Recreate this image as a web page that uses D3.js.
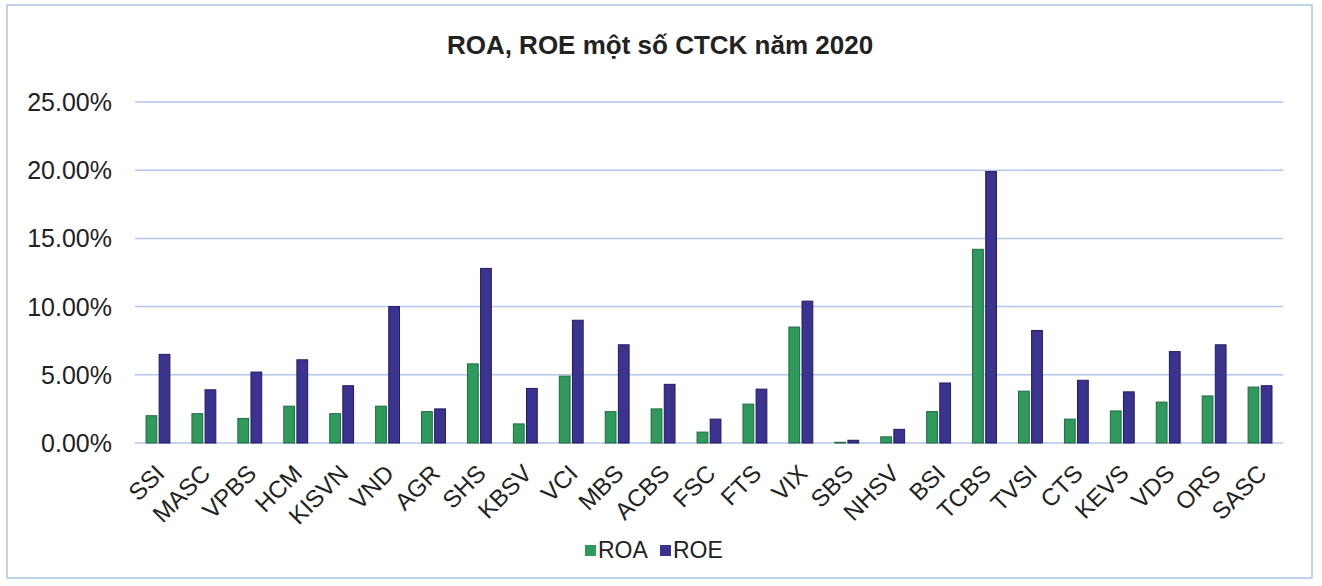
<!DOCTYPE html>
<html>
<head>
<meta charset="utf-8">
<script src="https://cdn.jsdelivr.net/npm/d3@7"></script>
<style>
  body { margin: 0; background: #fff; }
  text { font-family: "Liberation Sans", Arial, sans-serif; }
</style>
</head>
<body>
<div id="chart"></div>
<script>
// Data
const companies = ["SSI", "MASC", "VPBS", "HCM", "KISVN", "VND", "AGR", "SHS", "KBSV", "VCI",
  "MBS", "ACBS", "FSC", "FTS", "VIX", "SBS", "NHSV", "BSI", "TCBS", "TVSI",
  "CTS", "KEVS", "VDS", "ORS", "SASC"];
const roa = [2.0, 2.15, 1.8, 2.7, 2.15, 2.7, 2.3, 5.8, 1.4, 4.9,
  2.3, 2.5, 0.8, 2.85, 8.5, 0.05, 0.45, 2.3, 14.2, 3.8,
  1.75, 2.35, 3.0, 3.45, 4.1];
const roe = [6.5, 3.9, 5.2, 6.1, 4.2, 10.0, 2.5, 12.8, 4.0, 9.0,
  7.2, 4.3, 1.75, 3.95, 10.4, 0.2, 1.0, 4.4, 19.9, 8.25,
  4.6, 3.75, 6.7, 7.2, 4.2];
const seriesNames = ["ROA", "ROE"];
const seriesColors = ["#2f9a5c", "#3b3390"];
const seriesStroke = ["#1e6a3e", "#221b5c"];
const yTicks = [0, 5, 10, 15, 20, 25];

const width = 1322, height = 586;
const svg = d3.select("#chart").append("svg")
  .attr("width", width).attr("height", height);

// outer frame
svg.append("rect")
  .attr("x", 7).attr("y", 5).attr("width", 1305).attr("height", 573)
  .attr("fill", "#fff").attr("stroke", "#a9c6e6").attr("stroke-width", 1.5);

// title
svg.append("text")
  .attr("x", 660).attr("y", 54)
  .attr("text-anchor", "middle")
  .attr("font-weight", "bold")
  .attr("font-size", 26)
  .attr("fill", "#222")
  .text("ROA, ROE một số CTCK năm 2020");

const x = d3.scaleBand().domain(companies).range([135, 1283])
  .paddingInner(0.48).paddingOuter(0.24);
const x1 = d3.scaleBand().domain(seriesNames).range([0, x.bandwidth()]).paddingInner(0.18);
const y = d3.scaleLinear().domain([0, 25]).range([443, 102]);

// gridlines
svg.append("g").selectAll("line").data(yTicks).join("line")
  .attr("x1", 135).attr("x2", 1283)
  .attr("y1", d => y(d)).attr("y2", d => y(d))
  .attr("stroke", "#b3c6ec").attr("stroke-width", 1.5);

// y labels
svg.append("g").selectAll("text").data(yTicks).join("text")
  .attr("x", 112).attr("y", d => y(d) + 9)
  .attr("text-anchor", "end")
  .attr("font-size", 25)
  .attr("fill", "#222")
  .text(d => d3.format(".2f")(d) + "%");

// bars
const rows = companies.map((c, i) => ({ name: c, vals: [roa[i], roe[i]] }));
const groups = svg.append("g").selectAll("g").data(rows).join("g")
  .attr("transform", d => `translate(${x(d.name)},0)`);
groups.selectAll("rect")
  .data(d => d.vals.map((v, k) => ({ key: seriesNames[k], k, v })))
  .join("rect")
  .attr("x", d => x1(d.key))
  .attr("width", x1.bandwidth())
  .attr("y", d => y(d.v))
  .attr("height", d => y(0) - y(d.v))
  .attr("fill", d => seriesColors[d.k])
  .attr("stroke", d => seriesStroke[d.k])
  .attr("stroke-width", 1);

// x labels, rotated
svg.append("g").selectAll("text").data(companies).join("text")
  .attr("transform", d => `translate(${x(d) + x.bandwidth() / 2 + 8},${y(0) + 32}) rotate(-45)`)
  .attr("text-anchor", "end")
  .attr("font-size", 24)
  .attr("fill", "#222")
  .text(d => d);

// legend
const legend = svg.append("g").attr("transform", "translate(585,556)");
const items = legend.selectAll("g").data(seriesNames).join("g")
  .attr("transform", (d, i) => `translate(${i * 75},0)`);
items.append("rect")
  .attr("x", 0).attr("y", -11).attr("width", 11).attr("height", 11)
  .attr("fill", (d, i) => seriesColors[i]);
items.append("text")
  .attr("x", 13).attr("y", 2)
  .attr("font-size", 23)
  .attr("fill", "#222")
  .text(d => d);
</script>
</body>
</html>
